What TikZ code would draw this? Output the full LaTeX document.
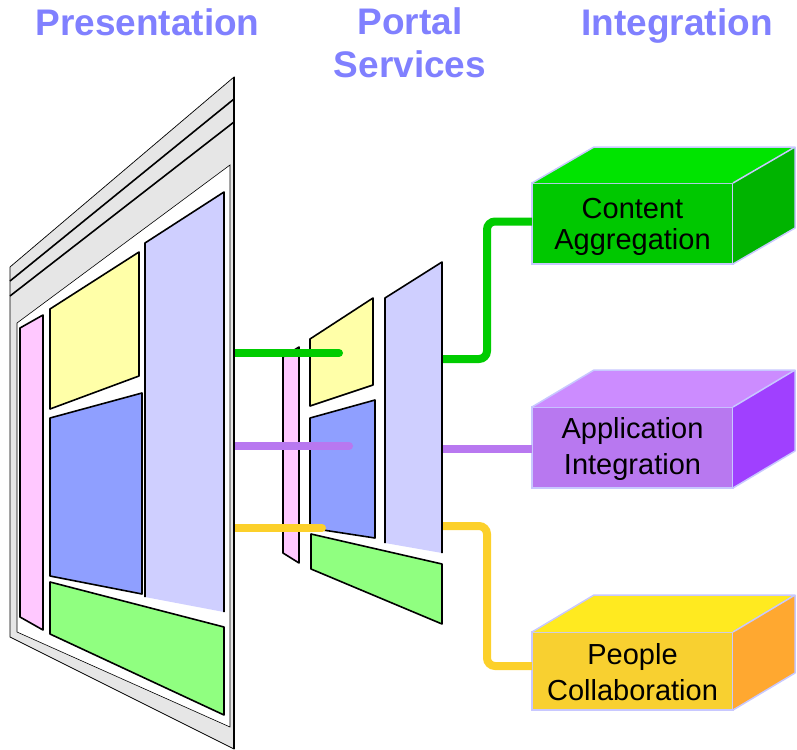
\documentclass[tikz,border=0pt]{standalone}
\usepackage{fontspec}
\setmainfont{Liberation Sans}
\usetikzlibrary{calc}
\definecolor{headc}{RGB}{128,128,255}
\definecolor{frameG}{RGB}{230,230,230}
\definecolor{pinkP}{RGB}{255,200,255}
\definecolor{yellowP}{RGB}{255,255,168}
\definecolor{blueP}{RGB}{143,159,255}
\definecolor{lavP}{RGB}{207,207,255}
\definecolor{greenP}{RGB}{144,255,128}
\definecolor{connG}{RGB}{0,204,0}
\definecolor{connP}{RGB}{184,120,240}
\definecolor{connY}{RGB}{252,208,42}
\definecolor{cubeedge}{RGB}{200,200,255}
\definecolor{caF}{RGB}{0,200,0}
\definecolor{caT}{RGB}{0,228,0}
\definecolor{caR}{RGB}{0,180,0}
\definecolor{aiF}{RGB}{184,120,240}
\definecolor{aiT}{RGB}{204,140,255}
\definecolor{aiR}{RGB}{160,64,255}
\definecolor{pcF}{RGB}{248,208,48}
\definecolor{pcT}{RGB}{255,234,32}
\definecolor{pcR}{RGB}{255,168,48}
\begin{document}
\begin{tikzpicture}[x=1pt,y=-1pt,
  panel/.style={draw=black,line width=1.6pt,line join=round},
  conn/.style={line width=8pt},
  heading/.style={font=\fontsize{37}{43}\selectfont\bfseries,text=headc,align=center,inner sep=0pt},
  cubefront/.style={draw=cubeedge,line width=1.5pt,minimum width=201pt,minimum height=81pt,
    inner sep=0pt,outer sep=0pt,align=center,font=\fontsize{29}{36}\selectfont},
  cubeside/.style={draw=cubeedge,line width=1.5pt,line join=round},
]
\useasboundingbox (0,0) rectangle (797,749);

% headings
\node[heading,anchor=base] (hpres) at (147.5,36) {Presentation};
\node[heading,anchor=base] (hport) at (410,78) {Portal\\Services};
\node[heading,anchor=base] (hint) at (677,36) {Integration};

% cubes
\node[cubefront,fill=caF,font=\fontsize{29}{31}\selectfont] (ca) at (632.5,223.5)
  {\rule{0pt}{28pt}Content\\Aggregation\rule[-6pt]{0pt}{6pt}};
\fill[caT] (ca.north west) -- ++(62,-36) -- ++(201,0) -- (ca.north east) -- cycle;
\fill[caR] (ca.north east) -- ++(62,-36) -- ++(0,81) -- (ca.south east) -- cycle;
\draw[cubeside] (ca.north west) -- ++(62,-36) -- ++(201,0) -- (ca.north east)
  ++(62,-36) -- ++(0,81) -- (ca.south east);

\node[cubefront,fill=aiF] (ai) at (632.5,447.5)
  {\rule{0pt}{25pt}Application\\Integration\rule[-6pt]{0pt}{6pt}};
\fill[aiT] (ai.north west) -- ++(62,-37) -- ++(201,0) -- (ai.north east) -- cycle;
\fill[aiR] (ai.north east) -- ++(62,-37) -- ++(0,81) -- (ai.south east) -- cycle;
\draw[cubeside] (ai.north west) -- ++(62,-37) -- ++(201,0) -- (ai.north east)
  ++(62,-37) -- ++(0,81) -- (ai.south east);

\node[cubefront,fill=pcF,minimum height=78pt] (pc) at (632.5,671)
  {\rule{0pt}{28pt}People\\Collaboration\rule[-6pt]{0pt}{6pt}};
\fill[pcT] (pc.north west) -- ++(62,-37) -- ++(201,0) -- (pc.north east) -- cycle;
\fill[pcR] (pc.north east) -- ++(62,-37) -- ++(0,78) -- (pc.south east) -- cycle;
\draw[cubeside] (pc.north west) -- ++(62,-37) -- ++(201,0) -- (pc.north east)
  ++(62,-37) -- ++(0,78) -- (pc.south east);

% right connectors
\coordinate (gR) at (442,359);
\coordinate (pR) at (442,449);
\coordinate (yR) at (442,526);
\coordinate (vx) at (487,0);
\draw[conn,connG,rounded corners=8pt] (gR) -- (vx |- gR) -- (vx |- {$(ca.west)+(0,-2)$}) -- ($(ca.west)+(0,-2)$);
\draw[conn,connP] (pR) -- (pR -| ai.west);
\draw[conn,connY,rounded corners=8pt] (yR) -- (vx |- yR) -- (vx |- {$(pc.west)+(0,-5)$}) -- ($(pc.west)+(0,-5)$);

% middle panels
\filldraw[panel,fill=pinkP] (283,357) -- (299,347) -- (299,563) -- (283,553) -- cycle;
\filldraw[panel,fill=yellowP] (310,339) -- (373,298) -- (373,385) -- (310,406) -- cycle;
\filldraw[panel,fill=blueP] (310,418) -- (375,400) -- (375,538) -- (310,528) -- cycle;
\fill[lavP] (385,298) -- (442,262) -- (442,553) -- (385,543) -- cycle;
\draw[panel] (385,543) -- (385,298) -- (442,262) -- (442,553);
\filldraw[panel,fill=greenP] (311,534) -- (442,564) -- (442,624) -- (311,569) -- cycle;

% left connectors
\coordinate (gL) at (226,353);
\coordinate (gE) at (339,353);
\coordinate (pL) at (226,446);
\coordinate (pE) at (349,446);
\coordinate (yL) at (226,528);
\coordinate (yE) at (322,528);
\draw[conn,connG,line cap=round] (gL) -- (gE);
\draw[conn,connP,line cap=round] (pL) -- (pE);
\draw[conn,connY,line cap=round] (yL) -- (yE);

% left frame
\filldraw[fill=frameG,draw=black,line width=0.7pt] (10,267) -- (234,77) -- (234,749) -- (10,637) -- cycle;
\draw[black,line width=1.8pt] (234,77) -- (234,749);
\draw[line width=1.6pt] (10,281) -- (234,99);
\draw[line width=1.6pt] (10,296) -- (234,122);
\filldraw[fill=white,draw=black,line width=0.6pt] (17,323) -- (230,165) -- (230,727) -- (17,632) -- cycle;

% left panels
\filldraw[panel,fill=pinkP] (20,328) -- (43,315) -- (43,630) -- (20,617) -- cycle;
\filldraw[panel,fill=yellowP] (50,309) -- (139,252) -- (139,376) -- (50,409) -- cycle;
\filldraw[panel,fill=blueP] (50,418) -- (142,393) -- (142,594) -- (50,576) -- cycle;
\fill[lavP] (145,243) -- (224,192) -- (224,612) -- (145,597) -- cycle;
\draw[panel] (145,597) -- (145,243) -- (224,192) -- (224,612);
\filldraw[panel,fill=greenP] (50,582) -- (224,627) -- (224,715) -- (50,634) -- cycle;
\end{tikzpicture}
\end{document}
